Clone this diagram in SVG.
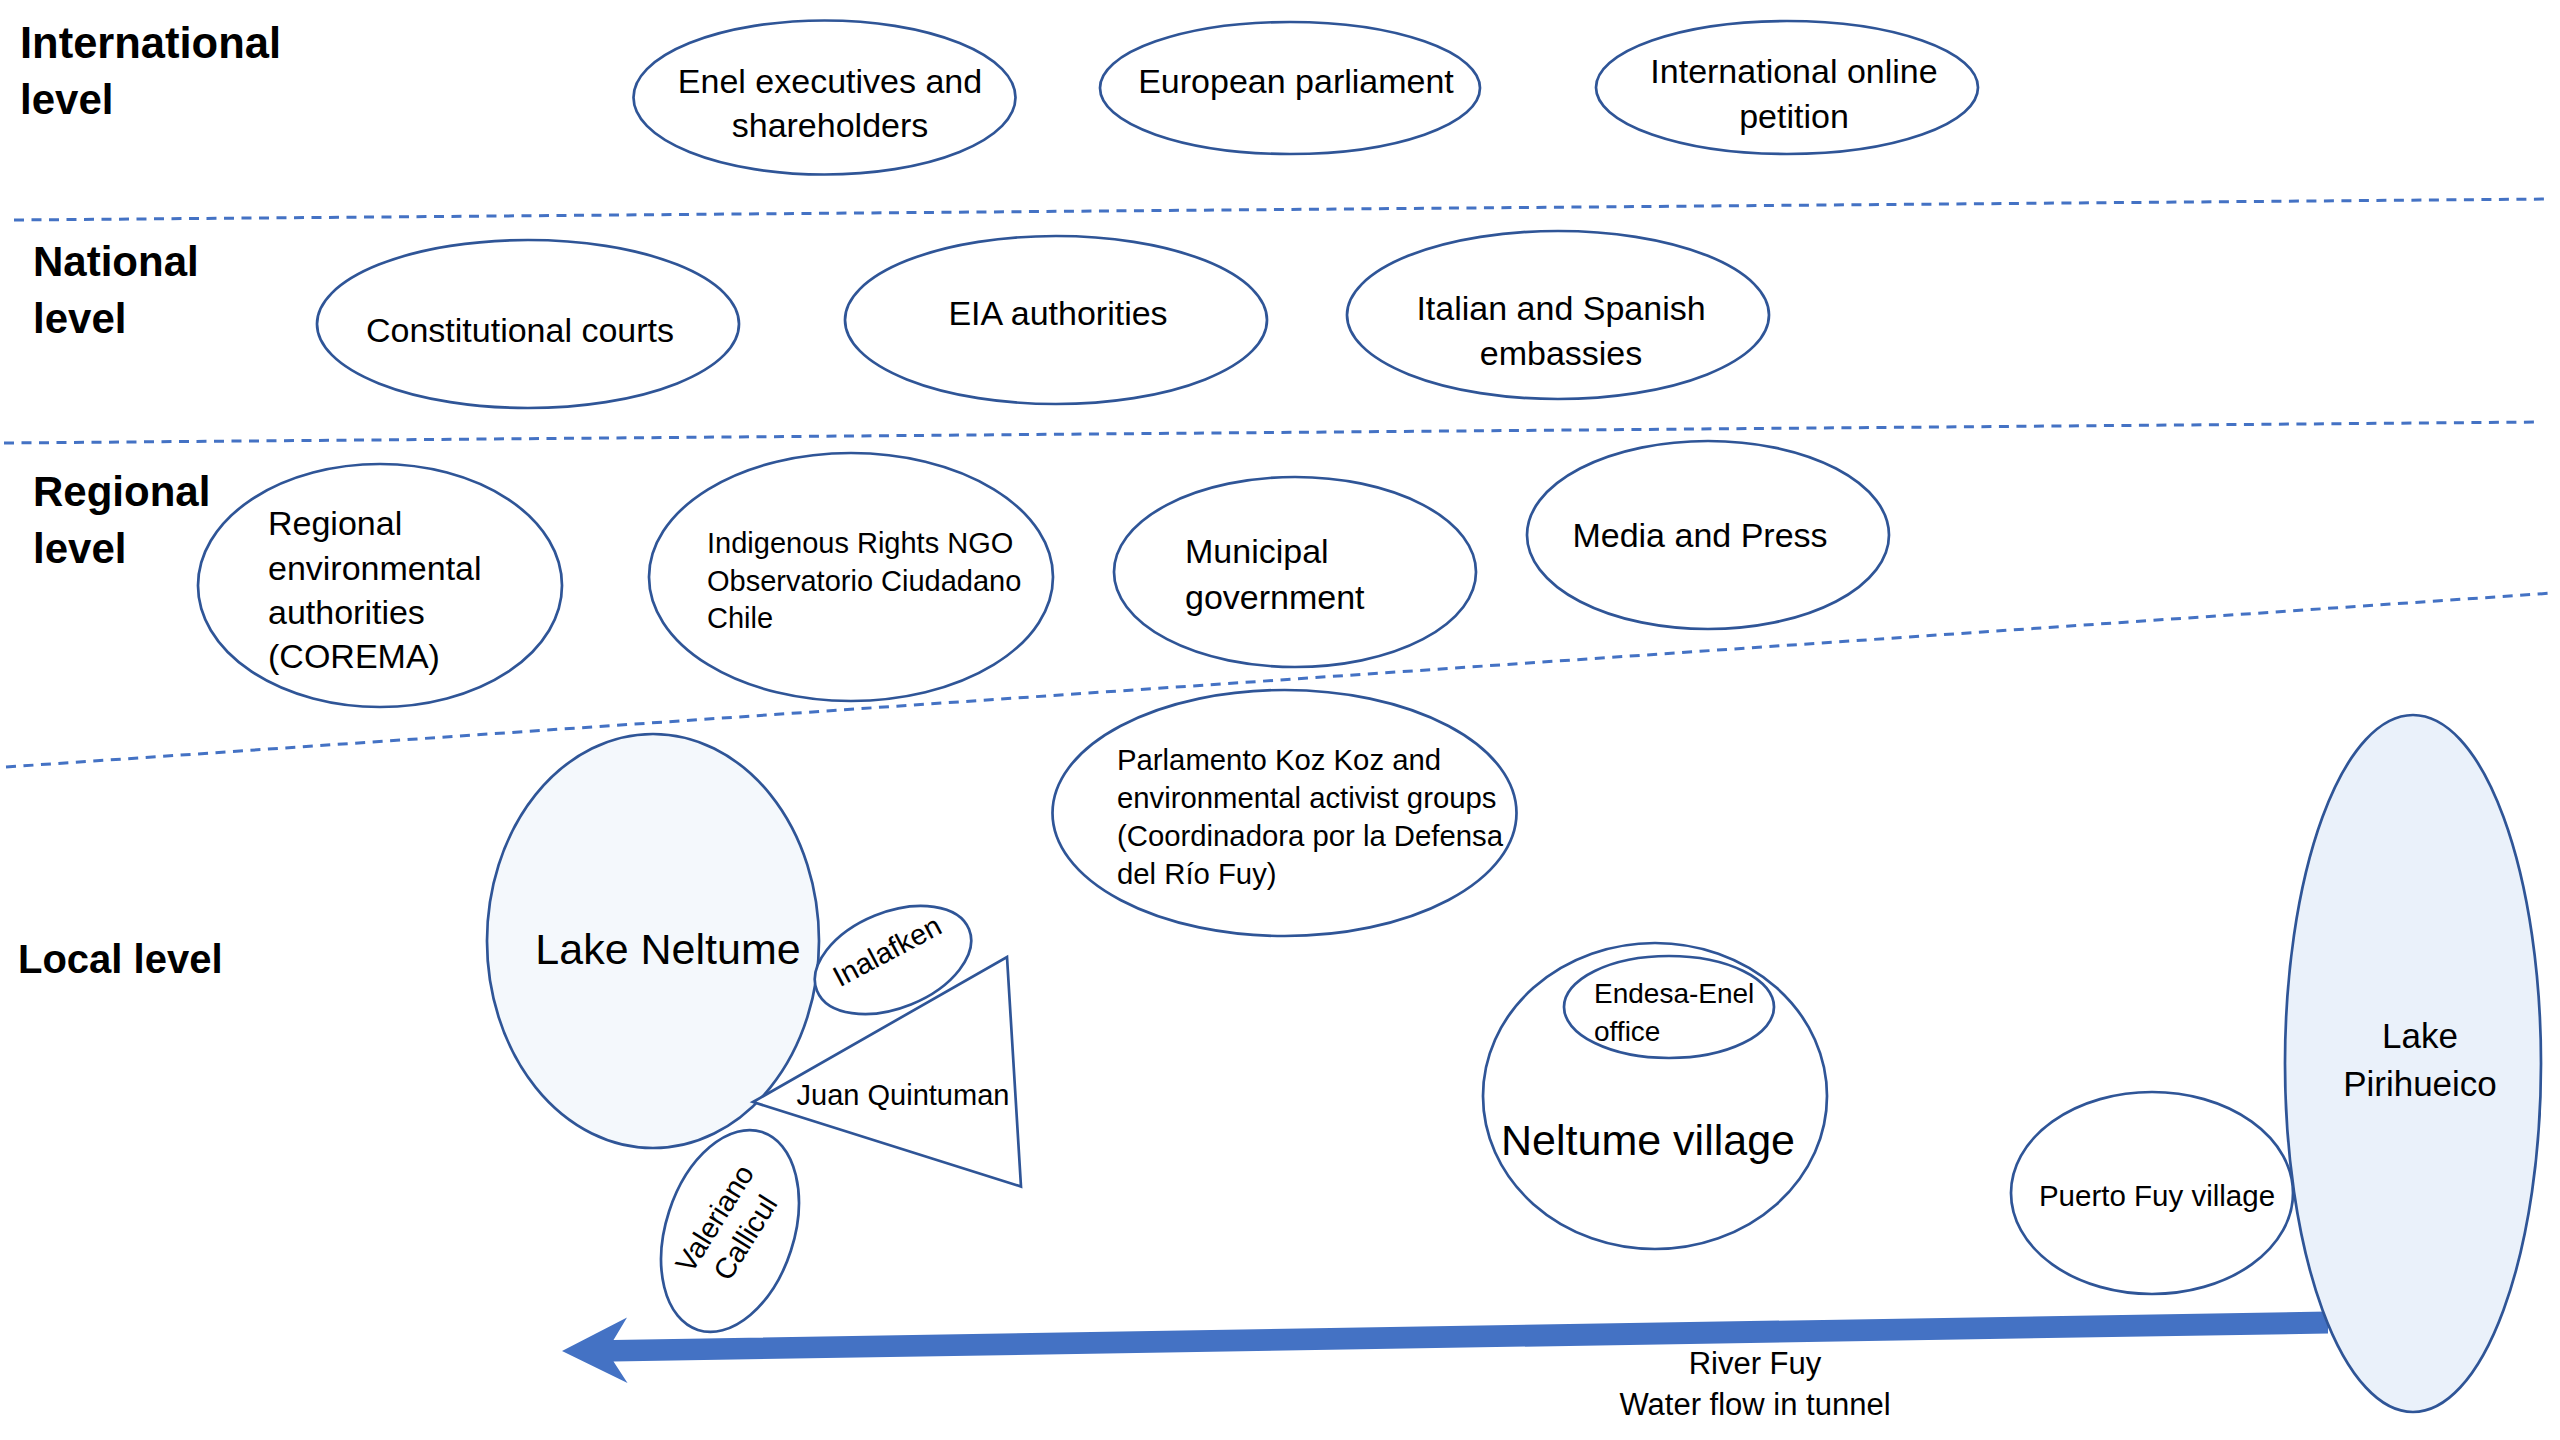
<svg xmlns="http://www.w3.org/2000/svg" width="2560" height="1440" viewBox="0 0 2560 1440">
<style>
text{font-family:"Liberation Sans",Arial,sans-serif;fill:#000}
.lvl{font-size:42px;font-weight:bold}
.n{fill:#fff;stroke:#2F5597;stroke-width:2.7}
.lake{stroke:#2F5597;stroke-width:2.7}
.t34{font-size:34px}
.t30{font-size:29.3px}
.t29{font-size:29px}
.t43{font-size:43px}
.m{text-anchor:middle}
.dash{stroke:#4472C4;stroke-width:3;stroke-dasharray:10 7.5;fill:none}
</style>
<rect width="2560" height="1440" fill="#fff"/>
<g id="levels">
<text class="lvl" x="20" y="58" style="font-size:43.5px">International</text>
<text class="lvl" x="20" y="114">level</text>
<text class="lvl" x="33" y="276">National</text>
<text class="lvl" x="33" y="333">level</text>
<text class="lvl" x="33" y="506">Regional</text>
<text class="lvl" x="33" y="563">level</text>
<text class="lvl" x="18" y="973" style="font-size:40px">Local level</text>
</g>
<g id="separators">
<line class="dash" x1="14" y1="220" x2="2551" y2="199"/>
<line class="dash" x1="4" y1="443" x2="2541" y2="422"/>
<line class="dash" x1="6" y1="767" x2="2553" y2="593"/>
</g>
<g id="enel">
<ellipse class="n" cx="824.5" cy="97.5" rx="191" ry="77"/>
<text class="t34 m" x="830" y="93">Enel executives and</text>
<text class="t34 m" x="830" y="137">shareholders</text>
</g>
<g id="european-parliament">
<ellipse class="n" cx="1290" cy="88" rx="190" ry="66"/>
<text class="t34 m" x="1296" y="93">European parliament</text>
</g>
<g id="online-petition">
<ellipse class="n" cx="1787" cy="87.5" rx="191" ry="66.5"/>
<text class="t34 m" x="1794" y="83">International online</text>
<text class="t34 m" x="1794" y="128">petition</text>
</g>
<g id="constitutional-courts">
<ellipse class="n" cx="528" cy="324" rx="211" ry="84"/>
<text class="t34 m" x="520" y="342">Constitutional courts</text>
</g>
<g id="eia-authorities">
<ellipse class="n" cx="1056" cy="320" rx="211" ry="84"/>
<text class="t34 m" x="1058" y="325">EIA authorities</text>
</g>
<g id="embassies">
<ellipse class="n" cx="1558" cy="315" rx="211" ry="84"/>
<text class="t34 m" x="1561" y="320">Italian and Spanish</text>
<text class="t34 m" x="1561" y="365">embassies</text>
</g>
<g id="corema">
<ellipse class="n" cx="380" cy="585.5" rx="182" ry="121.5"/>
<text class="t34" x="268" y="535">Regional</text>
<text class="t34" x="268" y="580">environmental</text>
<text class="t34" x="268" y="624">authorities</text>
<text class="t34" x="268" y="668">(COREMA)</text>
</g>
<g id="indigenous-ngo">
<ellipse class="n" cx="851" cy="577" rx="202" ry="124"/>
<text class="t29" x="707" y="553">Indigenous Rights NGO</text>
<text class="t29" x="707" y="591">Observatorio Ciudadano</text>
<text class="t29" x="707" y="628">Chile</text>
</g>
<g id="municipal-government">
<ellipse class="n" cx="1295" cy="572" rx="181" ry="95"/>
<text class="t34" x="1185" y="563">Municipal</text>
<text class="t34" x="1185" y="609">government</text>
</g>
<g id="media-press">
<ellipse class="n" cx="1708" cy="535" rx="181" ry="94"/>
<text class="t34 m" x="1700" y="547">Media and Press</text>
</g>
<g id="parlamento">
<ellipse class="n" cx="1284.5" cy="813" rx="232" ry="123"/>
<text class="t30" x="1117" y="770">Parlamento Koz Koz and</text>
<text class="t30" x="1117" y="808">environmental activist groups</text>
<text class="t30" x="1117" y="846">(Coordinadora por la Defensa</text>
<text class="t30" x="1117" y="884">del Río Fuy)</text>
</g>
<g id="connectors">
<polygon fill="#4472C4" points="562,1351 627,1317.5 613.5,1340 2328,1311.5 2328,1333.5 613.5,1361.5 627.5,1383"/>
<text class="m" style="font-size:31px" x="1755" y="1374">River Fuy</text>
<text class="m" style="font-size:31px" x="1755" y="1415">Water flow in tunnel</text>
</g>
<g id="lake-neltume">
<ellipse class="lake" fill="#F4F8FC" cx="653" cy="941" rx="166" ry="207"/>
<text class="t43 m" x="668" y="964">Lake Neltume</text>
</g>
<g id="juan-quintuman">
<polygon class="n" points="753,1102 1007,957 1021,1186.5"/>
<text class="t29 m" x="903" y="1105">Juan Quintuman</text>
</g>
<g id="inalafken">
<ellipse class="n" cx="0" cy="0" rx="82" ry="48" transform="translate(893,960) rotate(-22)"/>
<text class="t29 m" x="0" y="10" transform="translate(887,951) rotate(-28)">Inalafken</text>
</g>
<g id="valeriano-callicul">
<ellipse class="n" cx="0" cy="0" rx="64" ry="104" transform="translate(730,1231) rotate(18)"/>
<g transform="translate(730,1228) rotate(-58)">
<text class="t29 m" x="0" y="-8">Valeriano</text>
<text class="t29 m" x="0" y="28">Callicul</text>
</g>
</g>
<g id="neltume-village">
<ellipse class="n" cx="1655" cy="1096" rx="172" ry="153"/>
<text class="t43 m" x="1648" y="1155">Neltume village</text>
</g>
<g id="endesa-office">
<ellipse class="n" cx="1669" cy="1007" rx="105" ry="51"/>
<text style="font-size:28px" x="1594" y="1003">Endesa-Enel</text>
<text style="font-size:28px" x="1594" y="1041">office</text>
</g>
<g id="puerto-fuy">
<ellipse class="n" cx="2152" cy="1193" rx="141" ry="101"/>
<text class="m" style="font-size:29.5px" x="2157" y="1206">Puerto Fuy village</text>
</g>
<g id="lake-pirihueico">
<ellipse class="lake" fill="#EAF1FA" cx="2413" cy="1063.5" rx="128" ry="348.5"/>
<text class="m" style="font-size:35px" x="2420" y="1048">Lake</text>
<text class="m" style="font-size:35px" x="2420" y="1096">Pirihueico</text>
</g>
</svg>
